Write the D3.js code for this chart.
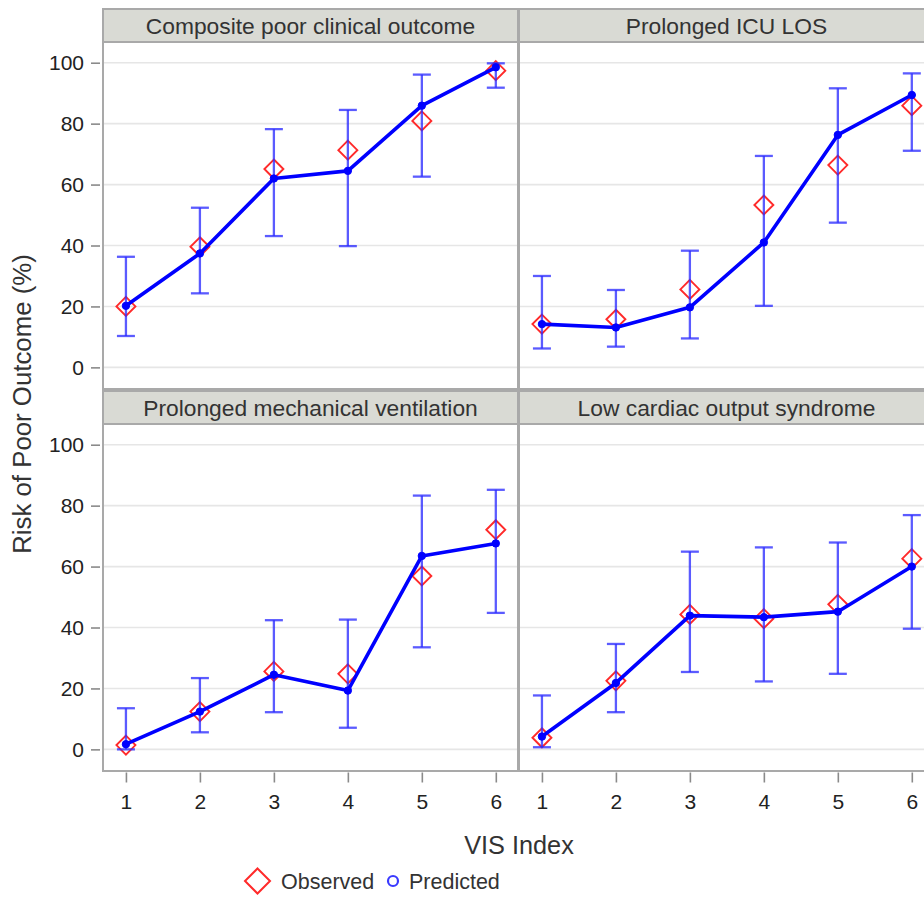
<!DOCTYPE html>
<html><head><meta charset="utf-8">
<script src="https://cdn.jsdelivr.net/npm/d3@7"></script>
<style>
body{margin:0;background:#fff;overflow:hidden}
svg{display:block}
text{font-family:"Liberation Sans",Arial,Helvetica,sans-serif}
</style>
</head><body><svg id="c" width="924" height="897"></svg>
<script>
// ---- data ----
const visIndex = [1, 2, 3, 4, 5, 6];
const panelTitles = ["Composite poor clinical outcome", "Prolonged ICU LOS",
  "Prolonged mechanical ventilation", "Low cardiac output syndrome"];
const yTicks = [0, 20, 40, 60, 80, 100];

const compositeObserved  = [20.0, 39.6, 65.1, 71.3, 80.9, 97.4];
const compositePredicted = [20.2, 37.4, 62.0, 64.5, 85.9, 98.5];
const compositeLower     = [10.3, 24.3, 43.1, 39.8, 62.6, 91.8];
const compositeUpper     = [36.3, 52.4, 78.2, 84.5, 96.1, 99.8];

const icuObserved  = [14.2, 15.8, 25.6, 53.3, 66.4, 85.9];
const icuPredicted = [14.2, 13.1, 19.7, 41.0, 76.3, 89.4];
const icuLower     = [6.2, 6.8, 9.5, 20.2, 47.5, 71.1];
const icuUpper     = [30.0, 25.4, 38.3, 69.4, 91.6, 96.5];

const ventObserved  = [1.4, 12.4, 25.6, 24.8, 56.9, 72.1];
const ventPredicted = [1.7, 12.4, 24.5, 19.3, 63.5, 67.6];
const ventLower     = [0.0, 5.6, 12.2, 7.1, 33.5, 44.8];
const ventUpper     = [13.5, 23.4, 42.4, 42.6, 83.3, 85.2];

const lcosObserved  = [3.8, 22.5, 44.3, 42.9, 47.6, 62.6];
const lcosPredicted = [4.2, 21.8, 43.9, 43.4, 45.2, 60.0];
const lcosLower     = [0.7, 12.2, 25.4, 22.3, 24.8, 39.6];
const lcosUpper     = [17.7, 34.6, 64.9, 66.3, 67.9, 76.9];

const legendLabels = ["Observed", "Predicted"];
const xTitle = "VIS Index";
const yTitle = "Risk of Poor Outcome (%)";

// ---- layout ----
const svg = d3.select("#c");
const colX = [103, 519];
const panelW = 415;
const headerTop = [9, 391];
const headerH = 33;
const plotH = 347;

const x = d3.scaleLinear().domain([0.69, 6.3]).range([0, panelW]);
const y = d3.scaleLinear().domain([-7.1, 106.8]).range([plotH, 0]);

const panels = [
  {title: panelTitles[0], obs: compositeObserved, pred: compositePredicted, lo: compositeLower, hi: compositeUpper, col: 0, row: 0},
  {title: panelTitles[1], obs: icuObserved, pred: icuPredicted, lo: icuLower, hi: icuUpper, col: 1, row: 0},
  {title: panelTitles[2], obs: ventObserved, pred: ventPredicted, lo: ventLower, hi: ventUpper, col: 0, row: 1},
  {title: panelTitles[3], obs: lcosObserved, pred: lcosPredicted, lo: lcosLower, hi: lcosUpper, col: 1, row: 1}
];

const frameColor = "#a9a9a9";
const blue = "#0000ff";
const errColor = "rgba(45,45,255,0.78)";
const red = "#ff2a2a";
const diamond = s => `M0,${-s}L${s},0L0,${s}L${-s},0Z`;

panels.forEach(p => {
  const px = colX[p.col];
  const hy = headerTop[p.row];
  const py = hy + headerH;
  const g = svg.append("g");

  // header
  g.append("rect").attr("x", px).attr("y", hy).attr("width", panelW).attr("height", headerH)
    .attr("fill", "#d9dad4").attr("stroke", frameColor).attr("stroke-width", 2);
  g.append("text").attr("x", px + panelW / 2).attr("y", hy + headerH / 2 + 8)
    .attr("text-anchor", "middle").attr("font-size", 22.8).attr("fill", "#333")
    .text(p.title);

  const pg = g.append("g").attr("transform", `translate(${px},${py})`);
  pg.append("rect").attr("width", panelW).attr("height", plotH).attr("fill", "#fff");
  pg.selectAll("line.grid").data(yTicks).join("line")
    .attr("x1", 0).attr("x2", panelW).attr("y1", d => y(d)).attr("y2", d => y(d))
    .attr("stroke", "#e6e6e6").attr("stroke-width", 1.6);

  const pts = visIndex.map((v, i) => ({v, obs: p.obs[i], pred: p.pred[i], lo: p.lo[i], hi: p.hi[i]}));

  // observed diamonds
  pg.selectAll("path.obs").data(pts).join("path")
    .attr("transform", d => `translate(${x(d.v)},${y(d.obs)})`)
    .attr("d", diamond(9.5)).attr("fill", "none").attr("stroke", red).attr("stroke-width", 1.9);

  // error bars
  const eb = pg.selectAll("g.eb").data(pts).join("g");
  eb.append("line").attr("x1", d => x(d.v)).attr("x2", d => x(d.v))
    .attr("y1", d => y(d.lo)).attr("y2", d => y(d.hi))
    .attr("stroke", errColor).attr("stroke-width", 2.3);
  eb.append("line").attr("x1", d => x(d.v) - 9).attr("x2", d => x(d.v) + 9)
    .attr("y1", d => y(d.hi)).attr("y2", d => y(d.hi))
    .attr("stroke", errColor).attr("stroke-width", 2.3);
  eb.append("line").attr("x1", d => x(d.v) - 9).attr("x2", d => x(d.v) + 9)
    .attr("y1", d => y(d.lo)).attr("y2", d => y(d.lo))
    .attr("stroke", errColor).attr("stroke-width", 2.3);

  // predicted line
  pg.append("path").datum(pts)
    .attr("d", d3.line().x(d => x(d.v)).y(d => y(d.pred)))
    .attr("fill", "none").attr("stroke", blue).attr("stroke-width", 3.6).attr("stroke-linejoin", "round");
  pg.selectAll("circle.pred").data(pts).join("circle")
    .attr("cx", d => x(d.v)).attr("cy", d => y(d.pred)).attr("r", 3.7)
    .attr("fill", blue).attr("stroke", blue).attr("stroke-width", 1);

  // frame
  pg.append("rect").attr("width", panelW).attr("height", plotH)
    .attr("fill", "none").attr("stroke", frameColor).attr("stroke-width", 2);

  if (p.col === 0) {
    const ay = svg.append("g").attr("transform", `translate(${px - 3},${py})`)
      .call(d3.axisLeft(y).tickValues(yTicks).tickSize(9).tickPadding(7));
    ay.select(".domain").remove();
    ay.selectAll(".tick line").attr("stroke", "#8a8a8a").attr("stroke-width", 1.6);
    ay.selectAll(".tick text").attr("font-size", 21).attr("fill", "#222")
      .attr("font-family", "Liberation Sans, Arial, sans-serif");
  }
  if (p.row === 1) {
    const ax = svg.append("g").attr("transform", `translate(${px},${py + plotH + 1.5})`)
      .call(d3.axisBottom(x).tickValues(visIndex).tickFormat(d3.format("d")).tickSize(10).tickPadding(12));
    ax.select(".domain").remove();
    ax.selectAll(".tick line").attr("stroke", "#8a8a8a").attr("stroke-width", 1.6);
    ax.selectAll(".tick text").attr("font-size", 21).attr("fill", "#222")
      .attr("font-family", "Liberation Sans, Arial, sans-serif");
  }
});

// axis titles
svg.append("text").attr("x", 519).attr("y", 854).attr("text-anchor", "middle")
  .attr("font-size", 25.3).attr("fill", "#333").text(xTitle);
svg.append("text").attr("transform", "translate(31,404) rotate(-90)").attr("text-anchor", "middle")
  .attr("font-size", 25.8).attr("fill", "#333").text(yTitle);

// legend
const lg = svg.append("g");
lg.append("path").attr("transform", "translate(257.5,881)").attr("d", diamond(12.5))
  .attr("fill", "none").attr("stroke", red).attr("stroke-width", 2);
lg.append("text").attr("x", 281).attr("y", 889).attr("font-size", 21.5).attr("fill", "#333").text(legendLabels[0]);
lg.append("circle").attr("cx", 393).attr("cy", 881).attr("r", 5)
  .attr("fill", "none").attr("stroke", "#3a3aff").attr("stroke-width", 2.2);
lg.append("text").attr("x", 409).attr("y", 889).attr("font-size", 21.5).attr("fill", "#333").text(legendLabels[1]);
</script></body></html>
